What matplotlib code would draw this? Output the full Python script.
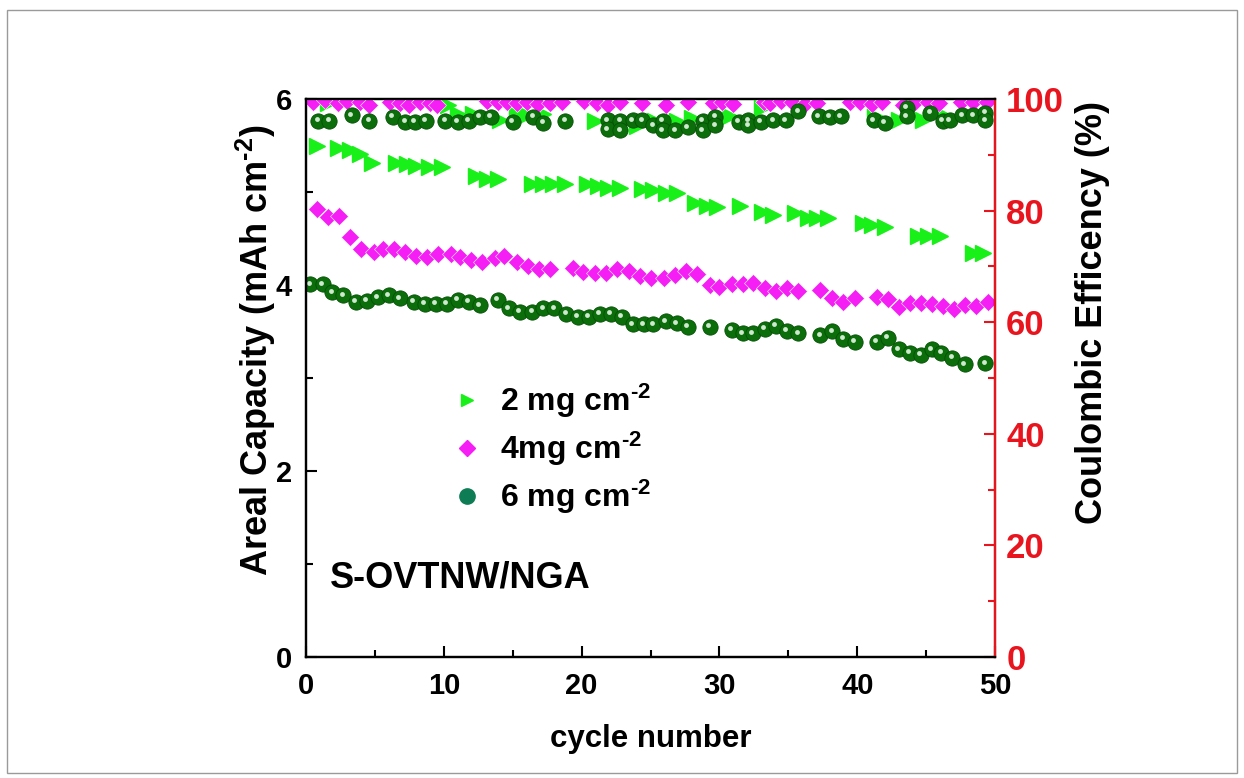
import numpy as np
import matplotlib
matplotlib.use("Agg")
import matplotlib.pyplot as plt
from matplotlib.lines import Line2D
from matplotlib.patches import Rectangle
import matplotlib.transforms as mtransforms

plt.rcParams['font.family'] = ['Liberation Sans', 'DejaVu Sans']
plt.rcParams['font.weight'] = 'bold'
plt.rcParams['mathtext.fontset'] = 'custom'
plt.rcParams['mathtext.rm'] = 'Liberation Sans:bold'
plt.rcParams['mathtext.bf'] = 'Liberation Sans:bold'
plt.rcParams['mathtext.it'] = 'Liberation Sans:bold'

# areal capacity, 2 mg cm-2 (triangles)
tri_x = [0.8, 2.3, 3.2, 3.9, 4.8, 6.5, 7.3, 8.0, 8.9, 9.9, 12.3, 13.1, 13.9, 16.4, 17.2, 17.9, 18.8,
         20.4, 21.2, 21.9, 22.8, 24.4, 25.2, 26.1, 26.9, 28.2, 29.1, 29.8, 31.5, 33.1, 33.9, 35.5,
         36.4, 37.1, 37.9, 40.4, 41.1, 42.0, 44.4, 45.1, 46.0, 48.4, 49.1]
tri_cap = [5.49, 5.47, 5.45, 5.41, 5.31, 5.31, 5.30, 5.28, 5.27, 5.27, 5.17, 5.14, 5.14, 5.09, 5.09,
           5.09, 5.09, 5.09, 5.06, 5.04, 5.04, 5.03, 5.02, 4.99, 4.99, 4.88, 4.85, 4.84, 4.85, 4.78,
           4.75, 4.77, 4.72, 4.72, 4.72, 4.67, 4.65, 4.62, 4.53, 4.53, 4.53, 4.34, 4.34]

# areal capacity, 4 mg cm-2 (diamonds)
dia_x = [0.8, 1.6, 2.4, 3.2, 4.0, 4.9, 5.6, 6.4, 7.2, 8.0, 8.8, 9.6, 10.5, 11.2, 12.0, 12.8, 13.7,
         14.4, 15.3, 16.1, 16.9, 17.7, 19.4, 20.1, 21.0, 21.8, 22.6, 23.4, 24.2, 25.0, 26.0, 26.8,
         27.6, 28.4, 29.3, 30.0, 30.9, 31.7, 32.4, 33.3, 34.1, 34.9, 35.7, 37.3, 38.2, 39.0, 39.8,
         41.4, 42.2, 43.0, 43.8, 44.6, 45.4, 46.2, 47.0, 47.8, 48.6, 49.5]
dia_cap = [4.82, 4.73, 4.74, 4.52, 4.39, 4.35, 4.39, 4.39, 4.35, 4.31, 4.30, 4.33, 4.33, 4.30, 4.27,
           4.25, 4.29, 4.31, 4.25, 4.20, 4.17, 4.17, 4.18, 4.14, 4.13, 4.13, 4.17, 4.15, 4.10, 4.08,
           4.07, 4.11, 4.15, 4.12, 4.00, 3.98, 4.01, 4.01, 4.02, 3.97, 3.93, 3.97, 3.93, 3.95, 3.86,
           3.82, 3.86, 3.87, 3.85, 3.76, 3.81, 3.81, 3.80, 3.77, 3.74, 3.78, 3.77, 3.82]

# areal capacity, 6 mg cm-2 (spheres)
sph_x = [0.3, 1.2, 1.9, 2.7, 3.6, 4.4, 5.2, 6.0, 6.8, 7.8, 8.6, 9.4, 10.2, 11.0, 11.8, 12.6, 13.9,
         14.7, 15.5, 16.4, 17.2, 18.0, 18.9, 19.7, 20.5, 21.3, 22.1, 22.9, 23.7, 24.5, 25.2, 26.1,
         26.9, 27.7, 29.3, 30.9, 31.7, 32.4, 33.3, 34.1, 34.9, 35.7, 37.3, 38.2, 39.0, 39.8, 41.4,
         42.2, 43.0, 43.8, 44.6, 45.4, 46.1, 46.9, 47.8, 49.3]
sph_cap = [4.01, 4.01, 3.92, 3.89, 3.82, 3.83, 3.87, 3.89, 3.86, 3.82, 3.80, 3.80, 3.80, 3.84, 3.82,
           3.78, 3.84, 3.75, 3.71, 3.71, 3.75, 3.75, 3.69, 3.66, 3.66, 3.69, 3.69, 3.66, 3.58, 3.58,
           3.58, 3.61, 3.59, 3.55, 3.55, 3.52, 3.48, 3.48, 3.53, 3.56, 3.51, 3.48, 3.46, 3.50, 3.42,
           3.39, 3.39, 3.43, 3.31, 3.27, 3.25, 3.31, 3.27, 3.22, 3.15, 3.16]

# coulombic efficiency
ce_tri_x = [1.6, 10.3, 11.0, 12.1, 14.1, 15.3, 16.0, 17.2, 21.0, 24.0, 25.3, 26.9, 28.0, 30.8,
            33.1, 41.3, 43.0, 44.8, 46.4]
ce_tri = [99.3, 98.9, 97.3, 97.3, 96.2, 97.1, 97.1, 97.3, 96.1, 95.2, 96.1, 96.1, 96.6, 96.9,
          98.4, 96.9, 96.2, 96.2, 96.9]

ce_dia_x = [0.5, 1.4, 2.3, 3.0, 3.9, 4.6, 6.1, 6.8, 7.5, 8.3, 9.0, 9.5, 13.1, 13.9, 14.6, 15.3,
            16.0, 16.8, 17.7, 18.6, 20.2, 21.1, 21.9, 22.8, 24.4, 26.1, 27.7, 29.5, 30.2, 31.0,
            33.2, 33.7, 34.5, 35.3, 36.2, 37.1, 39.5, 40.2, 41.1, 41.8, 43.3, 44.2, 45.1, 45.9,
            47.5, 48.4, 49.4]
ce_dia = [99.5, 99.9, 99.3, 99.6, 99.4, 99.0, 99.5, 99.3, 99.0, 99.4, 99.2, 99.0, 99.6, 99.4,
          99.5, 99.3, 99.5, 99.1, 99.3, 99.5, 99.6, 99.3, 99.0, 99.4, 99.2, 99.0, 99.4, 99.2,
          99.5, 99.1, 99.5, 99.3, 99.6, 99.4, 99.1, 99.3, 99.5, 99.4, 99.1, 99.5, 99.0, 99.4,
          99.5, 99.3, 99.5, 99.4, 99.5]

ce_sph_x = [0.9, 1.7, 3.3, 4.6, 6.3, 7.2, 7.9, 8.7, 10.1, 11.0, 11.8, 12.6, 13.4, 15.0, 16.5,
            17.2, 18.8, 21.9, 21.9, 22.8, 22.8, 23.7, 24.4, 25.2, 25.9, 25.9, 26.8, 27.7, 28.8,
            28.8, 29.7, 29.7, 31.4, 32.1, 32.1, 33.0, 33.9, 34.8, 35.7, 37.2, 38.0, 38.8, 41.2,
            42.0, 43.6, 43.6, 45.3, 46.2, 46.7, 47.6, 48.4, 49.3, 49.3]
ce_sph = [96.1, 96.1, 97.1, 96.1, 96.8, 95.9, 95.9, 96.1, 96.1, 95.9, 96.1, 96.8, 96.8, 95.9,
          96.8, 95.7, 96.1, 96.2, 94.6, 96.1, 94.4, 96.2, 96.2, 95.3, 96.1, 94.4, 94.4, 94.9,
          96.1, 94.4, 96.8, 95.3, 95.9, 96.2, 95.3, 95.9, 96.2, 96.2, 97.8, 96.9, 96.8, 96.9,
          96.2, 95.7, 98.4, 96.9, 97.5, 96.1, 96.2, 97.1, 97.1, 97.5, 96.2]

c_tri = '#19f019'
c_dia = '#f51ef5'
c_sph = '#0b6e0b'
c_hi = '#cfe8cf'
c_red = '#e8141e'

fig = plt.figure(figsize=(12.44, 7.78), dpi=100)
fig.patches.append(Rectangle((0.006, 0.006), 0.988, 0.981, transform=fig.transFigure,
                             fill=False, edgecolor='#9a9a9a', lw=1))
ax = fig.add_axes([0.246, 0.1555, 0.5539, 0.7173])
ax2 = ax.twinx()

hi = mtransforms.offset_copy(ax.transData, fig=fig, x=-1.5, y=1.5, units='dots')
hi2 = mtransforms.offset_copy(ax2.transData, fig=fig, x=-1.5, y=1.5, units='dots')

ax.plot(tri_x, tri_cap, ls='none', marker='>', ms=11, color=c_tri, mec=c_tri)
ax.plot(dia_x, dia_cap, ls='none', marker='D', ms=9.5, color=c_dia, mec='white', mew=0.4)
ax.plot(sph_x, sph_cap, ls='none', marker='o', ms=11, color=c_sph, mec='#055005', mew=0.6)
ax.plot(sph_x, sph_cap, ls='none', marker='o', ms=3.5, color=c_hi, mec='none', transform=hi)

ax2.plot(ce_tri_x, ce_tri, ls='none', marker='>', ms=11, color=c_tri, mec=c_tri)
ax2.plot(ce_dia_x, ce_dia, ls='none', marker='D', ms=9.5, color=c_dia, mec='white', mew=0.4)
ax2.plot(ce_sph_x, ce_sph, ls='none', marker='o', ms=11, color=c_sph, mec='#055005', mew=0.6)
ax2.plot(ce_sph_x, ce_sph, ls='none', marker='o', ms=3.5, color=c_hi, mec='none', transform=hi2)

ax.set_xlim(0, 50)
ax.set_ylim(0, 6)
ax2.set_ylim(0, 100)
ax.set_xticks([0, 10, 20, 30, 40, 50])
ax.set_xticks([5, 15, 25, 35, 45], minor=True)
ax.set_yticks([0, 2, 4, 6])
ax.set_yticks([1, 3, 5], minor=True)
ax2.set_yticks([0, 20, 40, 60, 80, 100])
ax2.set_yticks([10, 30, 50, 70, 90], minor=True)

for s in ax.spines.values():
    s.set_linewidth(1.6)
for s in ax2.spines.values():
    s.set_linewidth(1.6)
ax2.spines['right'].set_color(c_red)

ax.tick_params(which='both', direction='in', width=1.5, labelsize=21, top=False, right=False)
ax.tick_params(which='major', length=8)
ax.tick_params(which='minor', length=5)
ax.tick_params(axis='x', pad=11)
ax.tick_params(axis='y', pad=10)
ax2.tick_params(which='both', direction='in', width=1.5, colors=c_red, labelsize=25)
ax2.tick_params(which='major', length=8)
ax2.tick_params(which='minor', length=5)
ax2.tick_params(axis='y', pad=8)

ax.set_xlabel('cycle number', fontsize=22.5, fontweight='bold')
ax.xaxis.set_label_coords(0.5, -0.12)
ax.set_ylabel(r'Areal Capacity (mAh cm$^{\text{-2}}$)', fontsize=26, fontweight='bold')
ax.yaxis.set_label_coords(-0.041, 0.55)
ax2.set_ylabel('Coulombic Efficency (%)', fontsize=26, fontweight='bold')
ax2.yaxis.set_label_coords(1.116, 0.618)

ax.text(0.035, 0.142, 'S-OVTNW/NGA', transform=ax.transAxes, fontsize=26,
        fontweight='bold', va='center', ha='left')

handles = [Line2D([], [], ls='none', marker='>', ms=9, color=c_tri),
           Line2D([], [], ls='none', marker='D', ms=8, color=c_dia),
           Line2D([], [], ls='none', marker='o', ms=11, color='#0e7c55')]
labels = [r'2 mg cm$^{\text{-2}}$', r'4mg cm$^{\text{-2}}$', r'6 mg cm$^{\text{-2}}$']
ax.legend(handles, labels, loc='upper left', bbox_to_anchor=(0.168, 0.545), frameon=False,
          prop={'size': 23, 'weight': 'bold'}, handlelength=1.0, handletextpad=0.55,
          labelspacing=0.3)

fig.savefig('out.png', dpi=100)
